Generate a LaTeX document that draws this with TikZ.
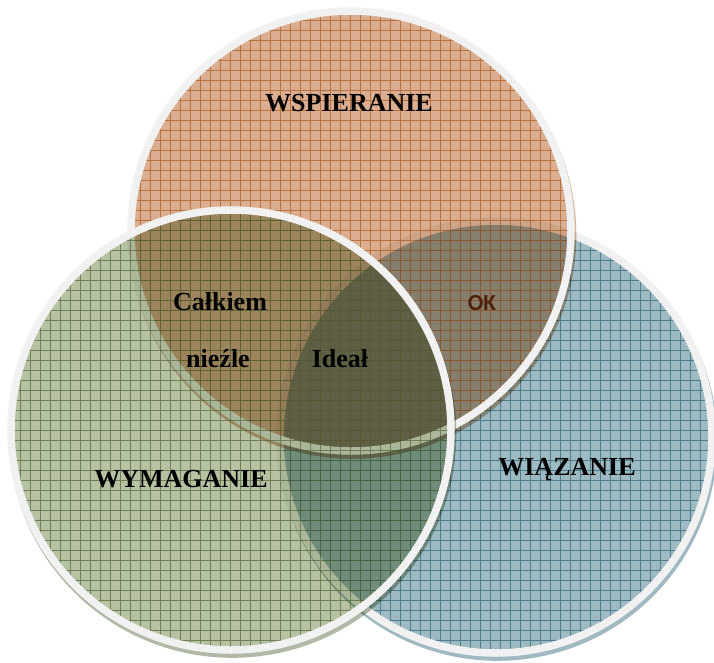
\documentclass[tikz,border=0pt]{standalone}
\usepackage{fontspec}
\setmainfont{Liberation Serif}
\newfontfamily\labelsans{Carlito}

\definecolor{orangeFill}{HTML}{DBAE91}
\definecolor{orangeLine}{HTML}{A85A20}
\definecolor{greenFill}{HTML}{B6C2A2}
\definecolor{greenLine}{HTML}{52643A}
\definecolor{blueFill}{HTML}{9DBAC3}
\definecolor{blueLine}{HTML}{2E6475}
\definecolor{ringWhite}{HTML}{F1F1F1}
\definecolor{okBrown}{HTML}{4E2208}

\tikzset{
  ring/.style={draw=ringWhite, line width=7.5pt},
  gridmajor/.style={line width=0.7pt, opacity=0.7},
  setlabel/.style={font=\bfseries\fontsize{26}{30}\selectfont, text=black, inner sep=0pt, anchor=base},
  oklabel/.style={font=\labelsans\bfseries\fontsize{23}{26}\selectfont, text=okBrown, inner sep=0pt, anchor=base},
}

% one set of the diagram: centre x, centre y, radius, fill colour, grid colour
\newcommand\vennset[5]{%
  \begin{scope}[blend mode=multiply]
    % soft shadow just below the rim
    \fill[#5, opacity=0.45, even odd rule] (#1+1.5,#2+4) circle (#3pt+3.8pt) (#1,#2) circle (#3pt);
    \fill[#4] (#1,#2) circle (#3pt);
  \end{scope}
  \begin{scope}
    \clip (#1,#2) circle (#3pt);
    \draw[#5, gridmajor, step=10pt] (#1-#3-10,#2-#3-10) grid (#1+#3+10,#2+#3+10);
  \end{scope}
  \draw[ring] (#1,#2) circle (#3pt);
}

\begin{document}
\begin{tikzpicture}[x=1pt,y=-1pt]
\useasboundingbox (0,0) rectangle (714,662);
\fill[white] (0,0) rectangle (714,662);

% binding (right), supporting (top), demanding (left)
\vennset{496}{437}{216}{blueFill}{blueLine}
\vennset{351}{231}{220}{orangeFill}{orangeLine}
\vennset{231}{430}{220}{greenFill}{greenLine}

\node[setlabel] (wsp) at (349,111) {WSPIERANIE};
\node[setlabel] (wym) at (181,487) {WYMAGANIE};
\node[setlabel] (wia) at (567,475) {WIĄZANIE};
\node[setlabel] (cal) at (220,310) {Całkiem};
\node[setlabel] (nie) at (218,367) {nieźle};
\node[setlabel] (ide) at (340,367) {Ideał};
\node[oklabel] (ok) at (482,310) {OK};
\end{tikzpicture}
\end{document}
